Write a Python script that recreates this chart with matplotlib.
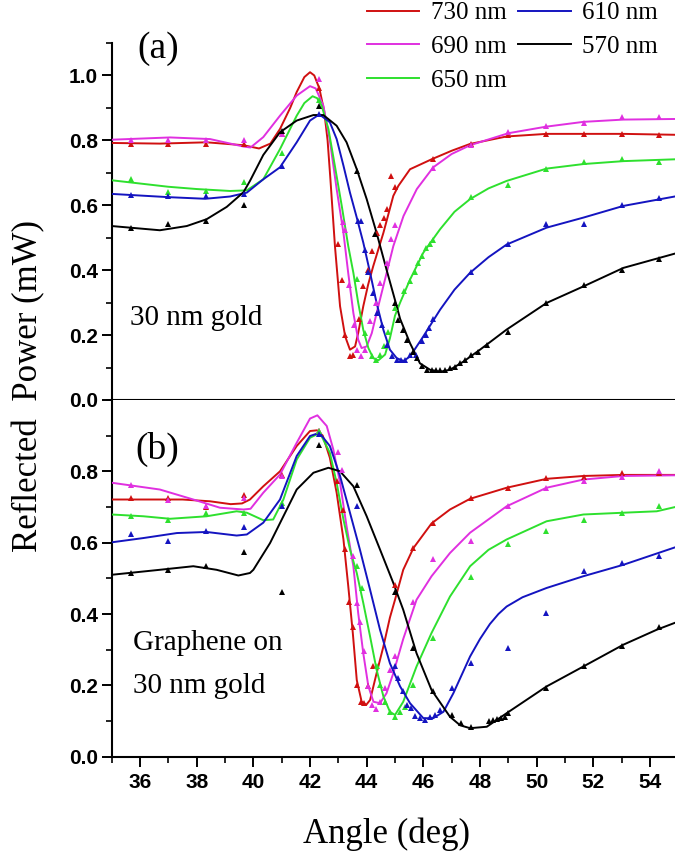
import numpy as np
import matplotlib.pyplot as plt
from matplotlib.ticker import MultipleLocator

labels = ['730 nm', '690 nm', '650 nm', '610 nm', '570 nm']
colors = ['#d01010', '#e030e0', '#2ee02e', '#1414c0', '#000000']

# ---- panel (a): 30 nm gold ----
a730_fit_x = [35.0, 36.7, 38.35, 39.65, 40.2, 40.6, 40.94, 41.3, 41.53, 41.8, 42.0, 42.15, 42.33, 42.5, 42.62, 42.72, 42.88, 43.06, 43.24, 43.41, 43.59, 43.7, 43.88, 44.05, 44.23, 44.59, 44.94, 45.12, 45.53, 46.3, 47.0, 47.65, 48.94, 50.35, 51.65, 53.06, 55.0]
a730_fit_y = [0.792, 0.790, 0.794, 0.785, 0.775, 0.79, 0.835, 0.90, 0.949, 0.995, 1.01, 1.0, 0.96, 0.89, 0.80, 0.68, 0.474, 0.289, 0.196, 0.155, 0.165, 0.206, 0.289, 0.355, 0.412, 0.515, 0.629, 0.66, 0.711, 0.742, 0.768, 0.789, 0.812, 0.82, 0.82, 0.82, 0.817]
a730_x = [35.67, 37.0, 38.33, 39.67, 41.0, 42.33, 42.98, 43.12, 43.25, 43.4, 43.53, 43.72, 43.88, 44.06, 44.18, 44.35, 44.47, 44.61, 44.73, 44.85, 45.0, 46.33, 47.67, 49.0, 50.33, 51.67, 53.0, 54.33]
a730_y = [0.79, 0.79, 0.79, 0.79, 0.82, 0.96, 0.48, 0.37, 0.20, 0.134, 0.14, 0.25, 0.35, 0.40, 0.46, 0.515, 0.54, 0.56, 0.59, 0.69, 0.655, 0.742, 0.79, 0.815, 0.82, 0.82, 0.82, 0.817]

a690_fit_x = [35.0, 37.06, 38.47, 39.65, 39.9, 40.35, 40.94, 41.53, 42.0, 42.2, 42.47, 42.7, 42.94, 43.18, 43.35, 43.53, 43.7, 43.82, 44.0, 44.18, 44.41, 44.7, 44.94, 45.18, 45.3, 45.77, 46.35, 47.0, 47.65, 49.0, 50.32, 51.65, 53.06, 55.0]
a690_fit_y = [0.802, 0.809, 0.804, 0.781, 0.778, 0.81, 0.876, 0.938, 0.967, 0.96, 0.907, 0.80, 0.65, 0.515, 0.39, 0.268, 0.186, 0.16, 0.165, 0.206, 0.289, 0.39, 0.474, 0.536, 0.567, 0.65, 0.717, 0.758, 0.785, 0.822, 0.842, 0.857, 0.864, 0.866]
a690_x = [35.67, 37.0, 38.33, 39.67, 41.0, 42.33, 43.15, 43.24, 43.39, 43.56, 43.67, 43.8, 43.94, 44.12, 44.33, 44.47, 44.7, 44.86, 45.0, 46.33, 47.67, 49.0, 50.33, 51.67, 53.0, 54.33]
a690_y = [0.80, 0.80, 0.80, 0.80, 0.82, 0.99, 0.548, 0.525, 0.353, 0.232, 0.155, 0.134, 0.155, 0.242, 0.30, 0.36, 0.423, 0.495, 0.54, 0.715, 0.787, 0.825, 0.843, 0.855, 0.873, 0.873]

a650_fit_x = [35.0, 36.0, 37.0, 38.0, 39.18, 39.77, 40.35, 40.94, 41.53, 41.8, 42.09, 42.25, 42.41, 42.65, 42.88, 43.12, 43.35, 43.53, 43.7, 43.88, 44.06, 44.23, 44.41, 44.65, 44.82, 45.0, 45.18, 45.53, 46.0, 46.59, 47.1, 47.65, 48.3, 48.94, 50.35, 51.65, 53.06, 55.0]
a650_fit_y = [0.677, 0.667, 0.657, 0.65, 0.644, 0.646, 0.68, 0.773, 0.876, 0.915, 0.936, 0.93, 0.907, 0.835, 0.72, 0.598, 0.474, 0.392, 0.30, 0.216, 0.16, 0.129, 0.122, 0.14, 0.19, 0.26, 0.30, 0.371, 0.454, 0.526, 0.58, 0.619, 0.652, 0.675, 0.713, 0.727, 0.736, 0.742]
a650_x = [35.67, 37.0, 38.33, 39.67, 41.0, 42.33, 43.65, 43.94, 44.18, 44.33, 44.47, 44.62, 44.76, 45.0, 45.3, 45.53, 45.7, 45.82, 45.94, 46.1, 46.24, 46.33, 47.67, 49.0, 50.33, 51.67, 53.0, 54.33]
a650_y = [0.68, 0.64, 0.645, 0.672, 0.76, 0.925, 0.373, 0.206, 0.134, 0.124, 0.139, 0.165, 0.211, 0.284, 0.335, 0.366, 0.394, 0.423, 0.443, 0.469, 0.482, 0.493, 0.624, 0.662, 0.713, 0.732, 0.742, 0.732]

a610_fit_x = [35.0, 36.0, 37.0, 38.3, 39.18, 39.77, 40.35, 40.94, 41.53, 42.0, 42.33, 42.7, 42.94, 43.18, 43.41, 43.65, 43.88, 44.12, 44.35, 44.59, 44.82, 45.06, 45.3, 45.53, 46.0, 46.59, 47.1, 47.65, 48.3, 48.94, 50.35, 51.65, 53.06, 55.0]
a610_fit_y = [0.635, 0.630, 0.625, 0.62, 0.627, 0.639, 0.68, 0.717, 0.794, 0.861, 0.88, 0.856, 0.804, 0.722, 0.639, 0.562, 0.485, 0.392, 0.299, 0.216, 0.155, 0.129, 0.12, 0.134, 0.196, 0.278, 0.34, 0.392, 0.44, 0.479, 0.531, 0.562, 0.598, 0.629]
a610_x = [35.67, 37.0, 38.33, 39.67, 41.0, 42.33, 43.7, 43.8, 43.93, 44.05, 44.22, 44.37, 44.55, 44.72, 44.9, 45.06, 45.2, 45.35, 45.53, 45.74, 45.94, 46.1, 46.21, 46.33, 47.67, 49.0, 50.33, 51.67, 53.0, 54.33]
a610_y = [0.631, 0.628, 0.63, 0.634, 0.722, 0.88, 0.552, 0.552, 0.462, 0.394, 0.33, 0.268, 0.23, 0.17, 0.135, 0.124, 0.124, 0.124, 0.139, 0.139, 0.183, 0.201, 0.221, 0.25, 0.394, 0.482, 0.541, 0.541, 0.601, 0.622]

a570_fit_x = [35.0, 35.65, 36.7, 37.65, 38.35, 39.06, 39.65, 39.88, 40.35, 40.94, 41.53, 42.12, 42.47, 42.94, 43.29, 43.65, 44.0, 44.35, 44.7, 45.06, 45.18, 45.53, 45.88, 46.24, 46.59, 46.94, 47.41, 48.0, 48.94, 50.35, 51.65, 53.06, 55.0]
a570_fit_y = [0.536, 0.531, 0.523, 0.536, 0.557, 0.595, 0.64, 0.675, 0.755, 0.825, 0.861, 0.878, 0.878, 0.845, 0.794, 0.711, 0.619, 0.515, 0.402, 0.289, 0.25, 0.175, 0.113, 0.093, 0.087, 0.093, 0.118, 0.155, 0.217, 0.299, 0.35, 0.407, 0.454]
a570_x = [35.67, 37.0, 38.33, 39.67, 41.0, 42.33, 43.67, 44.29, 45.0, 45.12, 45.27, 45.43, 45.62, 45.76, 45.94, 46.12, 46.3, 46.45, 46.59, 46.76, 46.94, 47.12, 47.3, 47.47, 47.67, 47.94, 48.26, 49.0, 50.33, 51.67, 53.0, 54.33]
a570_y = [0.531, 0.541, 0.552, 0.60, 0.83, 0.905, 0.705, 0.51, 0.30, 0.247, 0.217, 0.186, 0.149, 0.129, 0.105, 0.093, 0.093, 0.091, 0.091, 0.091, 0.098, 0.103, 0.115, 0.124, 0.139, 0.149, 0.17, 0.211, 0.30, 0.353, 0.40, 0.433]

# ---- panel (b): graphene on 30 nm gold ----
b730_fit_x = [35.0, 36.5, 37.5, 38.47, 39.2, 39.6, 39.88, 40.35, 40.94, 41.53, 42.0, 42.25, 42.45, 42.7, 42.94, 43.18, 43.35, 43.51, 43.65, 43.82, 43.98, 44.12, 44.35, 44.59, 44.82, 45.0, 45.29, 45.65, 46.29, 46.94, 47.65, 48.94, 50.35, 51.65, 53.06, 55.0]
b730_fit_y = [0.721, 0.721, 0.721, 0.716, 0.708, 0.71, 0.721, 0.758, 0.80, 0.871, 0.913, 0.915, 0.90, 0.838, 0.74, 0.609, 0.478, 0.347, 0.215, 0.155, 0.145, 0.159, 0.234, 0.309, 0.39, 0.44, 0.524, 0.585, 0.654, 0.693, 0.723, 0.754, 0.779, 0.787, 0.79, 0.79]
b730_x = [35.67, 37.0, 38.33, 39.67, 41.0, 42.33, 42.96, 43.15, 43.24, 43.39, 43.53, 43.67, 43.79, 43.92, 44.06, 44.24, 45.0, 45.65, 46.33, 47.67, 49.0, 50.33, 51.67, 53.0, 54.33]
b730_y = [0.724, 0.724, 0.70, 0.733, 0.79, 0.913, 0.772, 0.693, 0.581, 0.435, 0.365, 0.201, 0.154, 0.15, 0.197, 0.253, 0.482, 0.585, 0.656, 0.724, 0.754, 0.782, 0.785, 0.794, 0.794]

b690_fit_x = [35.0, 36.7, 37.88, 38.82, 39.65, 39.9, 40.35, 40.94, 41.53, 42.0, 42.26, 42.59, 42.82, 43.06, 43.29, 43.53, 43.7, 43.88, 44.06, 44.24, 44.47, 44.7, 44.94, 45.18, 45.29, 45.76, 46.29, 46.94, 47.65, 48.94, 50.35, 51.65, 53.06, 55.0]
b690_fit_y = [0.768, 0.749, 0.721, 0.698, 0.693, 0.695, 0.74, 0.791, 0.88, 0.948, 0.957, 0.927, 0.862, 0.768, 0.646, 0.534, 0.403, 0.29, 0.197, 0.154, 0.15, 0.178, 0.234, 0.30, 0.33, 0.44, 0.506, 0.571, 0.628, 0.702, 0.754, 0.777, 0.787, 0.789]
b690_x = [35.67, 37.0, 38.33, 39.67, 41.0, 42.33, 43.0, 43.12, 43.5, 43.65, 43.76, 43.92, 44.06, 44.2, 44.33, 44.47, 44.65, 44.82, 45.0, 45.65, 46.33, 47.67, 49.0, 50.33, 51.67, 53.0, 54.33]
b690_y = [0.763, 0.72, 0.704, 0.724, 0.786, 0.913, 0.854, 0.805, 0.562, 0.431, 0.379, 0.295, 0.197, 0.145, 0.133, 0.154, 0.192, 0.244, 0.281, 0.435, 0.554, 0.604, 0.704, 0.754, 0.772, 0.785, 0.802]

b650_fit_x = [35.0, 36.12, 37.06, 38.35, 39.41, 39.77, 40.35, 40.7, 41.06, 41.53, 42.0, 42.35, 42.7, 42.94, 43.18, 43.41, 43.65, 43.88, 44.12, 44.35, 44.59, 44.82, 45.0, 45.29, 45.76, 46.29, 46.94, 47.65, 48.3, 48.94, 50.35, 51.65, 53.06, 54.24, 55.0]
b650_fit_y = [0.679, 0.674, 0.667, 0.674, 0.688, 0.684, 0.663, 0.665, 0.721, 0.833, 0.894, 0.908, 0.852, 0.768, 0.665, 0.581, 0.515, 0.431, 0.337, 0.244, 0.169, 0.126, 0.117, 0.154, 0.253, 0.347, 0.449, 0.534, 0.58, 0.609, 0.66, 0.679, 0.684, 0.688, 0.702]
b650_x = [35.67, 37.0, 38.33, 39.67, 41.0, 42.33, 43.67, 43.82, 44.35, 44.47, 44.65, 44.82, 45.0, 45.18, 45.35, 45.65, 46.33, 47.67, 49.0, 50.33, 51.67, 53.0, 54.33]
b650_y = [0.674, 0.663, 0.682, 0.684, 0.71, 0.913, 0.534, 0.473, 0.253, 0.201, 0.154, 0.126, 0.112, 0.126, 0.14, 0.201, 0.333, 0.503, 0.595, 0.632, 0.663, 0.684, 0.704]

b610_fit_x = [35.0, 36.12, 37.3, 38.35, 39.41, 39.77, 40.35, 40.94, 41.53, 42.0, 42.33, 42.7, 43.06, 43.41, 43.76, 44.12, 44.47, 44.82, 45.18, 45.53, 46.0, 46.35, 46.71, 47.06, 47.65, 48.0, 48.35, 48.65, 48.94, 49.5, 50.35, 51.65, 53.06, 55.0]
b610_fit_y = [0.601, 0.613, 0.627, 0.63, 0.62, 0.623, 0.656, 0.721, 0.843, 0.899, 0.908, 0.871, 0.787, 0.684, 0.581, 0.468, 0.356, 0.262, 0.197, 0.15, 0.108, 0.108, 0.126, 0.178, 0.281, 0.33, 0.372, 0.40, 0.421, 0.447, 0.473, 0.506, 0.538, 0.59]
b610_x = [35.67, 37.0, 38.33, 39.67, 41.0, 42.33, 43.67, 45.0, 45.12, 45.27, 45.41, 45.55, 45.7, 45.88, 46.06, 46.24, 46.41, 46.59, 47.0, 47.67, 49.0, 50.33, 51.67, 53.0, 54.33]
b610_y = [0.625, 0.604, 0.632, 0.644, 0.702, 0.904, 0.702, 0.253, 0.22, 0.183, 0.145, 0.136, 0.114, 0.108, 0.103, 0.112, 0.117, 0.131, 0.192, 0.262, 0.304, 0.403, 0.522, 0.543, 0.564]

b570_fit_x = [35.0, 36.7, 37.88, 38.7, 39.47, 39.88, 40.0, 40.59, 41.06, 41.53, 42.12, 42.65, 43.06, 43.53, 44.0, 44.47, 44.94, 45.29, 45.76, 46.29, 46.94, 47.3, 47.65, 48.24, 48.94, 50.35, 51.65, 53.06, 54.24, 55.0]
b570_fit_y = [0.51, 0.524, 0.534, 0.524, 0.508, 0.515, 0.524, 0.599, 0.674, 0.749, 0.796, 0.81, 0.80, 0.758, 0.674, 0.581, 0.487, 0.412, 0.29, 0.187, 0.112, 0.088, 0.08, 0.084, 0.122, 0.197, 0.253, 0.314, 0.356, 0.379]
b570_x = [35.67, 37.0, 38.33, 39.67, 41.0, 42.33, 43.67, 45.0, 45.65, 46.33, 47.0, 47.32, 47.67, 48.33, 48.47, 48.6, 48.73, 48.88, 49.0, 50.33, 51.67, 53.0, 54.33]
b570_y = [0.515, 0.524, 0.534, 0.573, 0.463, 0.873, 0.763, 0.463, 0.304, 0.183, 0.117, 0.094, 0.084, 0.101, 0.103, 0.105, 0.108, 0.112, 0.122, 0.192, 0.253, 0.311, 0.365]

panel_a = [(a730_fit_x, a730_fit_y, a730_x, a730_y),
           (a690_fit_x, a690_fit_y, a690_x, a690_y),
           (a650_fit_x, a650_fit_y, a650_x, a650_y),
           (a610_fit_x, a610_fit_y, a610_x, a610_y),
           (a570_fit_x, a570_fit_y, a570_x, a570_y)]
panel_b = [(b730_fit_x, b730_fit_y, b730_x, b730_y),
           (b690_fit_x, b690_fit_y, b690_x, b690_y),
           (b650_fit_x, b650_fit_y, b650_x, b650_y),
           (b610_fit_x, b610_fit_y, b610_x, b610_y),
           (b570_fit_x, b570_fit_y, b570_x, b570_y)]

serif = 'Liberation Serif'
sans = 'Liberation Sans'

fig = plt.figure(figsize=(6.75, 8.6), dpi=100)
ax1 = fig.add_axes([0.1655, 0.5349, 0.8394, 0.4151])
ax2 = fig.add_axes([0.1655, 0.1201, 0.8394, 0.4148], sharex=ax1)

handles = []
for ax, series in [(ax1, panel_a), (ax2, panel_b)]:
    for (fx, fy, dx, dy), c, lab in zip(series, colors, labels):
        ln, = ax.plot(fx, fy, color=c, lw=1.4, label=lab, zorder=3)
        ax.plot(dx, dy, '^', color=c, ms=4, mew=0, zorder=4)
        if ax is ax1:
            handles.append(ln)

ax1.set_xlim(35, 55)
ax1.set_ylim(0, 1.1)
ax2.set_ylim(0, 1.0)
ax1.set_yticks(np.arange(0, 1.01, 0.2))
ax2.set_yticks(np.arange(0, 0.81, 0.2))
ax1.xaxis.set_major_locator(MultipleLocator(2))
ax1.xaxis.set_minor_locator(MultipleLocator(1))
for ax in (ax1, ax2):
    ax.yaxis.set_minor_locator(MultipleLocator(0.1))
    ax.spines['top'].set_visible(False)
    ax.spines['right'].set_visible(False)
    for s in ('left', 'bottom'):
        ax.spines[s].set_linewidth(1.5)
    ax.tick_params(which='major', direction='out', length=7, width=1.4, pad=3)
    ax.tick_params(which='minor', direction='out', length=4, width=1.2)
    ax.yaxis.set_major_formatter(plt.FormatStrFormatter('%.1f'))
    for t in ax.get_yticklabels():
        t.set_fontfamily(sans)
        t.set_fontweight('bold')
        t.set_fontsize(15)
ax1.tick_params(axis='x', labelbottom=False)
ax2.tick_params(axis='x', pad=5)
ax2.set_xticks(np.arange(36, 55, 2))
for t in ax2.get_xticklabels():
    t.set_fontfamily(sans)
    t.set_fontweight('bold')
    t.set_fontsize(15)

ax1.text(0.045, 0.985, '(a)', transform=ax1.transAxes, fontsize=27,
         family=serif, va='center', ha='left')
ax1.text(0.033, 0.21, '30 nm gold', transform=ax1.transAxes, fontsize=21,
         family=serif, va='baseline', ha='left')
ax2.text(0.042, 0.86, '(b)', transform=ax2.transAxes, fontsize=27,
         family=serif, va='center', ha='left')
ax2.text(0.038, 0.30, 'Graphene on', transform=ax2.transAxes, fontsize=21,
         family=serif, va='baseline', ha='left')
ax2.text(0.038, 0.18, '30 nm gold', transform=ax2.transAxes, fontsize=21,
         family=serif, va='baseline', ha='left')

fig.text(0.042, 0.551, 'Reflected  Power (mW)', rotation=90, fontsize=25,
         family=serif, va='center', ha='center')
fig.text(0.573, 0.03, 'Angle (deg)', fontsize=25, family=serif,
         va='center', ha='center')

fig.legend(handles, labels, ncol=2, loc='upper left',
           bbox_to_anchor=(0.5437, 0.9977), frameon=False,
           prop={'family': serif, 'size': 18}, handlelength=2.1,
           handletextpad=0.47, columnspacing=0.45, labelspacing=0.45,
           borderpad=0, borderaxespad=0)

fig.savefig('out.png', dpi=100)
